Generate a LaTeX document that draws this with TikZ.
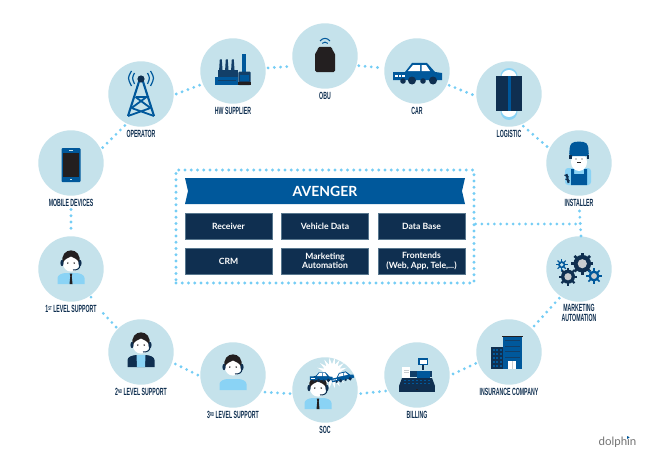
\documentclass[tikz,border=0pt]{standalone}
\usepackage{fontspec}
\setmainfont{Lato}
\newfontfamily\labfont[FakeStretch=0.5]{Liberation Sans}
\definecolor{hubc}{HTML}{C5E2EB}
\definecolor{dotc}{HTML}{74CDF5}
\definecolor{navy}{HTML}{0F2F50}
\definecolor{midb}{HTML}{123F68}
\definecolor{blu}{HTML}{00589B}
\definecolor{lite}{HTML}{8AD3F5}
\definecolor{blk}{HTML}{231F20}
\definecolor{gry}{HTML}{C9CCCE}
\newcommand{\ordsup}[1]{\raisebox{2.4pt}{\fontsize{5.6}{5.6}\selectfont #1}}
\tikzset{
  hub/.style={circle,fill=hubc,minimum size=65.4pt,inner sep=0pt,outer sep=2.5pt},
  dots/.style={draw=dotc,line width=3.1pt,line cap=round,dash pattern=on 0pt off 6.25pt},
  lab/.style={inner sep=0pt,align=center,text=navy,font=\labfont\bfseries\fontsize{10.4}{9.4}\selectfont},
  modbox/.style={fill=navy,draw=navy!60!hubc,line width=.4pt,minimum width=87pt,minimum height=26pt,inner sep=0pt,align=center,text=white,font=\bfseries\fontsize{8.6}{9.2}\selectfont},
}
\newcommand{\iconcar}{%
  \fill[blu] (-24,1) -- (-12,1) -- (-5,-8) -- (10,-8) -- (18,1) -- (25,2) -- (25,9) -- (-24,9) -- cycle;
  \fill[white] (-9,0) -- (-4,-6) -- (3,-6) -- (3,0) -- cycle;
  \fill[white] (4.5,0) -- (4.5,-6) -- (9,-6) -- (13,0) -- cycle;
  \fill[white] (-22,4) rectangle (-19.5,6);
  \fill[white] (-18.5,4) rectangle (-16,6);
  \fill[white] (-15,4) rectangle (-12.5,6);
  \fill[navy] (-14,10) circle[radius=2.8];
  \fill[navy] (6,10) circle[radius=2.8];
  \fill[navy] (-5,9.5) circle[radius=4];
  \fill[navy] (16,9.5) circle[radius=4];
}
\newcommand{\icongear}[5]{% x y radius colour hole
  \fill[#4] (#1,#2) circle[radius=#3];
  \foreach \ga in {0,45,...,315} {\draw[#4,line width=#3*.3pt] (#1,#2) ++(\ga:#3-1) -- ++(\ga:3.2);}
  \fill[#5] (#1,#2) circle[radius=#3*.52];
}
% person: headset, face, hair
\newcommand{\iconhead}[1]{% y of head centre
  \fill[white] (0,#1) ellipse[x radius=8.2,y radius=8.6];
  \fill[blk] (-8.4,#1+.5) .. controls (-12,#1-17) and (12,#1-17) .. (8.4,#1+.5) .. controls (7,#1-4) and (3,#1-5) .. (0,#1-6.5) .. controls (-3,#1-5) and (-7,#1-4) .. (-8.4,#1+.5) -- cycle;
  \fill[navy] (-9,#1) ellipse[x radius=1.6,y radius=3.2];
  \fill[navy] (9,#1) ellipse[x radius=1.6,y radius=3.2];
  \draw[navy,line width=1pt] (9,#1+2) .. controls (9,#1+6) and (6,#1+7) .. (2,#1+7);
  \fill[blk] (-3.2,#1) circle[radius=.8];
  \fill[blk] (3.2,#1) circle[radius=.8];
}
\newcommand{\iconshirt}{%
  \fill[lite] (-13.5,15) -- (-13.5,9) .. controls (-13.5,6) and (-9,4) .. (-5,4) -- (5,4) .. controls (9,4) and (13.5,6) .. (13.5,9) -- (13.5,15) -- cycle;
}
\newcommand{\icontie}{%
  \fill[blk] (-1.3,4.5) -- (1.3,4.5) -- (.7,7) -- (1.5,15) -- (-1.5,15) -- (-.7,7) -- cycle;
}
\begin{document}
\begin{tikzpicture}[x=1pt,y=-1pt]
\useasboundingbox (0,0) rectangle (650,460);
\fill[white] (0,0) rectangle (650,460);

% hubs
\node[hub] (mobile) at (71,163) {};
\node[hub] (oper)   at (141,94) {};
\node[hub] (hw)     at (233,71) {};
\node[hub] (obu)    at (325,56) {};
\node[hub] (car)    at (417,71) {};
\node[hub] (logi)   at (509,94) {};
\node[hub] (inst)   at (579,163) {};
\node[hub] (mark)   at (579,269) {};
\node[hub] (insu)   at (509,352) {};
\node[hub] (bill)   at (417,375) {};
\node[hub] (soc)    at (325,390) {};
\node[hub] (third)  at (233,375) {};
\node[hub] (second) at (141,352) {};
\node[hub] (first)  at (71,269) {};

% central frame
\node[dots,rectangle,minimum width=298pt,minimum height=113pt,inner sep=0pt] (frame) at (325,226.5) {};
\fill[blu] (185,178) -- (465,178) -- (462,191) -- (465,204) -- (185,204) -- (188,191) -- cycle;
\node[inner sep=0pt,text=white,font=\bfseries\fontsize{14}{14}\selectfont] (ban) at (325,191) {AVENGER};
\node[modbox] (b1) at (228.5,226) {Receiver};
\node[modbox] (b2) at (325,226) {Vehicle Data};
\node[modbox] (b3) at (421.5,226) {Data Base};
\node[modbox] (b4) at (228.5,261) {CRM};
\node[modbox] (b5) at (325,261) {Marketing\\Automation};
\node[modbox] (b6) at (421.5,261) {Frontends\\(Web, App, Tele,...)};

% connectors
\draw[dots] (mobile.26) -- (oper.243);
\draw[dots] (oper.0) -- (hw.203);
\draw[dots] (hw.5) -- (obu.197);
\draw[dots] (obu.344) -- (car.175);
\draw[dots] (car.-24) -- (logi.182);
\draw[dots] (logi.-66) -- (inst.153);
\draw[dots] (mark.236) -- (insu.46);
\draw[dots] (insu.199) -- (bill.1);
\draw[dots] (bill.207) -- (soc.-6);
\draw[dots] (soc.186) -- (third.-29);
\draw[dots] (third.180) -- (second.-19);
\coordinate (gapA) at (102,312);
\draw[dots] (second.135) -- (gapA);
\coordinate (dotA) at (91,297);
\fill[dotc] (dotA) circle[radius=1.5];
\coordinate (gapB) at (71,209.5);
\draw[dots] (gapB) -- (first.north);
\coordinate (gapC) at (579.5,211);
\coordinate (gapD) at (581,236);
\coordinate (jn) at (581,224);
\draw[dots] (gapC) -- (gapD);
\draw[dots] (frame.east |- jn) -- (jn);

% labels
\node[lab] (l1) at (71,203) {MOBILE DEVICES};
\node[lab] (l2) at (141,134) {OPERATOR};
\node[lab] (l3) at (233,111) {HW SUPPLIER};
\node[lab] (l4) at (325,96) {OBU};
\node[lab] (l5) at (417,111) {CAR};
\node[lab] (l6) at (509,134) {LOGISTIC};
\node[lab] (l7) at (579,203) {INSTALLER};
\node[lab] (l8) at (579,313) {MARKETING\\AUTOMATION};
\node[lab] (l9) at (509,392) {INSURANCE COMPANY};
\node[lab] (l10) at (417,415) {BILLING};
\node[lab] (l11) at (325,430) {SOC};
\node[lab] (l12) at (233,415) {3\ordsup{RD} LEVEL SUPPORT};
\node[lab] (l13) at (141,392) {2\ordsup{ND} LEVEL SUPPORT};
\node[lab] (l14) at (71,309) {1\ordsup{ST} LEVEL SUPPORT};

% phone
\begin{scope}[shift={(71,163)}]
  \fill[blu,rounded corners=1pt] (-9.5,-15) rectangle (9.5,19);
  \fill[blk] (-8,-10) rectangle (8,14);
  \fill[hubc] (-2,-13) rectangle (2,-12);
  \fill[hubc] (-1,16) rectangle (1,17);
\end{scope}

% tower
\begin{scope}[shift={(141,94)}]
  \draw[blu,line width=2.1pt,line join=round] (-13,22) -- (-1.5,-14) -- (1.5,-14) -- (13,22);
  \draw[blu,line width=1.8pt] (-5.5,3) -- (5.5,3) -- (-9.5,14) (-5.5,3) -- (9.5,14) (-9.5,14) -- (13,22) (9.5,14) -- (-13,22);
  \fill[navy] (0,-15) circle[radius=3.6];
  \draw[blu,line width=1.2pt] (-6.5,-21) .. controls (-9,-16) .. (-6.5,-10);
  \draw[blu,line width=1.2pt] (6.5,-21) .. controls (9,-16) .. (6.5,-10);
  \draw[blu,line width=1.2pt] (-9.5,-23) .. controls (-13.5,-16) .. (-9.5,-8);
  \draw[blu,line width=1.2pt] (9.5,-23) .. controls (13.5,-16) .. (9.5,-8);
\end{scope}

% factory
\begin{scope}[shift={(233,71)}]
  \fill[midb] (-14.7,-1) rectangle (5.3,6.3);
  \fill[midb] (-13.2,-11.7) -- (-11.2,-11.7) -- (-10.5,-1) -- (-13.9,-1) -- cycle;
  \fill[midb] (-7.2,-11.7) -- (-5.2,-11.7) -- (-4.5,-1) -- (-7.9,-1) -- cycle;
  \fill[midb] (-1.2,-11.7) -- (.8,-11.7) -- (1.5,-1) -- (-1.9,-1) -- cycle;
  \fill[blu] (-18,6.3) rectangle (5.3,14);
  \fill[midb] (-15,9) rectangle (3,10);
  \fill[blu] (8.7,-17) rectangle (12.7,1);
  \fill[midb,rounded corners=1pt] (5.3,.7) rectangle (17.7,14);
  \fill[blu] (7,4) rectangle (16,10);
  \fill[blk] (5.3,11) rectangle (17.7,14);
\end{scope}

% OBU
\begin{scope}[shift={(325,56)}]
  \fill[blk,rounded corners=1.5pt] (-7,-9) -- (7,-9) -- (7.5,-5) -- (10,-3) -- (10,16) -- (-10,16) -- (-10,-3) -- (-7.5,-5) -- cycle;
  \draw[blu,line width=1pt] (-5,-15) .. controls (-2,-18.5) and (2,-18.5) .. (5,-15);
  \draw[blu,line width=1pt] (-2.8,-12.6) .. controls (-1,-14.3) and (1,-14.3) .. (2.8,-12.6);
\end{scope}

% car
\begin{scope}[shift={(417,71)}]
  \iconcar
\end{scope}

% logistic
\begin{scope}[shift={(509,94)}]
  \fill[lite] (0,-18) ellipse[x radius=8.5,y radius=8];
  \fill[lite] (0,17) ellipse[x radius=8.5,y radius=9];
  \fill[white] (0,-17) ellipse[x radius=7.5,y radius=7];
  \fill[white] (0,16) ellipse[x radius=7.5,y radius=7];
  \fill[navy] (-12.7,-18) rectangle (12.7,17);
  \fill[blu] (-1.5,-18) rectangle (1.5,17);
\end{scope}

% installer
\begin{scope}[shift={(579,163)}]
  \fill[lite,rounded corners=3pt] (-14,22) -- (-14,5) -- (12,5) -- (12,22) -- cycle;
  \fill[white] (0,-1) ellipse[x radius=8,y radius=9];
  \fill[blu] (-8,22) -- (-8,6) -- (-5,6) -- (-5,11) -- (5,11) -- (5,6) -- (8,6) -- (8,22) -- cycle;
  \fill[blu,rounded corners=2.5pt] (-10,-7) -- (-9,-18) .. controls (-5,-22) and (5,-22) .. (9,-18) -- (10,-7) -- cycle;
  \fill[navy] (-10,-8) rectangle (-7.5,-4);
  \fill[navy] (7.5,-8) rectangle (10,-4);
  \fill[blk] (-2,-1.5) rectangle (2,-.5);
  \fill[blk] (-3,-4) circle[radius=.6];
  \fill[blk] (3,-4) circle[radius=.6];
  \draw[navy,line width=2pt] (-12.5,11) -- (-10.5,20);
  \draw[navy,line width=1.2pt] (-14.5,12) -- (-10.5,14) (-13.5,16) -- (-9.5,18);
\end{scope}

% gears
\icongear{582.3}{263.7}{8.8}{navy}{gry}
\icongear{568}{276.7}{7}{navy}{gry}
\icongear{594}{276}{5.6}{blu}{gry}
\icongear{561.7}{264.7}{3.6}{blu}{hubc}

% insurance
\begin{scope}[shift={(509,352)}]
  \fill[blu] (-6,-15) rectangle (13,17);
  \fill[blk] (-7.5,-16.5) rectangle (14,-15);
  \fill[midb] (-4,-12) rectangle (11,-11);
  \fill[midb] (-4,-6.5) rectangle (11,-5.5);
  \fill[midb] (-4,-1) rectangle (11,0);
  \fill[midb] (-4,4.5) rectangle (11,5.5);
  \fill[navy] (-18,-5) rectangle (-6,17);
  \foreach \wx in {-16.5,-13,-9.5} \foreach \wy in {-3,1,5,9,13} {\fill[blu] (\wx,\wy) rectangle ++(2.4,2.4);}
  \fill[white] (-1,9) rectangle (7,17);
  \fill[gry] (2.7,9) rectangle (3.3,17);
\end{scope}

% billing
\begin{scope}[shift={(417,375)}]
  \fill[blu] (1,-17) rectangle (11,-10);
  \fill[white] (2.5,-15.5) rectangle (9.5,-11.5);
  \fill[navy] (5,-10) rectangle (7,-5);
  \fill[midb] (-15,-4) rectangle (15,2);
  \fill[white] (-15,-8) rectangle (-7,4);
  \fill[gry] (-13.5,-5.5) rectangle (-8.5,-5);
  \fill[gry] (-13.5,-3) rectangle (-8.5,-2.5);
  \fill[blu] (0,-4) rectangle (13,3);
  \fill[navy] (-15,3) -- (15,3) -- (18,11) -- (-18,11) -- cycle;
  \foreach \ky in {5,7.5} \foreach \kx in {-13,-9,...,11} {\fill[blu] (\kx,\ky) rectangle ++(2.4,1.3);}
  \fill[navy] (-18,11) rectangle (18,17);
  \fill[blk] (-1,13.5) rectangle (1,15);
\end{scope}

% SOC
\begin{scope}[shift={(332,373)}]
  \fill[white] (0,0) circle[radius=9.5];
  \foreach \a in {0,20,...,340} {\fill[white] (\a-9:9) -- (\a:15.5) -- (\a+9:9) -- cycle;}
\end{scope}
\begin{scope}[shift={(318,394)}]
  \iconshirt
  \icontie
  \iconhead{-6}
\end{scope}
\begin{scope}[shift={(321,376)},scale=.46]
  \iconcar
\end{scope}
\begin{scope}[shift={(342,376)},rotate=12,scale=.46]
  \iconcar
\end{scope}

% third
\begin{scope}[shift={(233,375)}]
  \iconshirt
  \iconhead{-8}
\end{scope}

% second
\begin{scope}[shift={(141,352)}]
  \fill[navy] (-13.5,15) -- (-13.5,8) .. controls (-13.5,5) and (-9,3) .. (-4,3) -- (4,3) .. controls (9,3) and (13.5,5) .. (13.5,8) -- (13.5,15) -- cycle;
  \fill[lite] (-4.5,3) -- (4.5,3) -- (4,15) -- (-4,15) -- cycle;
  \iconhead{-7}
\end{scope}

% first
\begin{scope}[shift={(71,269)}]
  \iconshirt
  \icontie
  \iconhead{-6}
\end{scope}

% logo
\node[inner sep=0pt,text=black!55,font=\fontsize{11.5}{11.5}\selectfont] (logo) at (617.5,442.5) {dolphin};
\fill[blu] (627,436) -- (629.5,437.5) -- (627,439) -- cycle;
\end{tikzpicture}
\end{document}
